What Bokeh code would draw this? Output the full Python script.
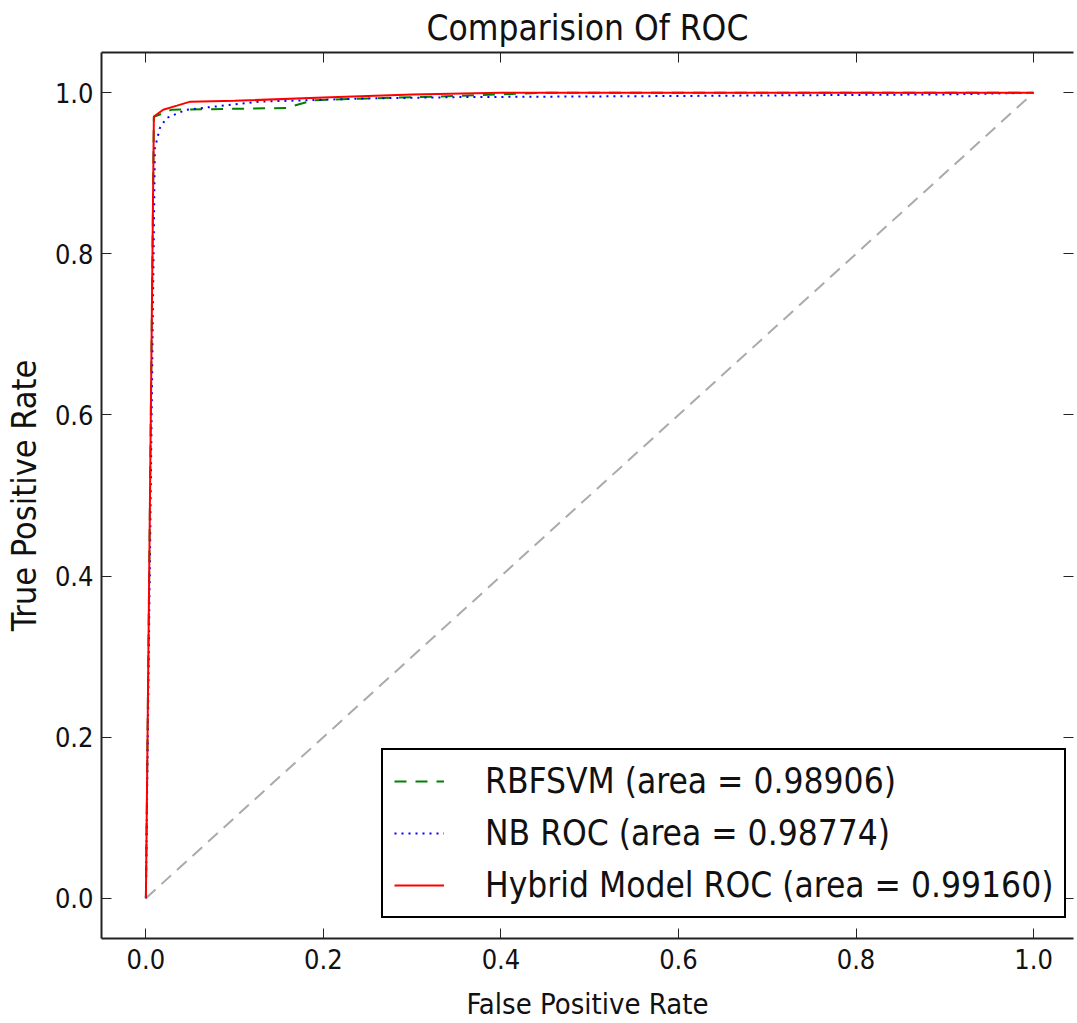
from bokeh.plotting import figure
from bokeh.models import Range1d, LinearAxis, FixedTicker, Legend, LegendItem, CustomLabelingPolicy
from bokeh.embed import file_html
from bokeh.resources import INLINE

# ---- data ----
fpr_svm = [0.0, 0.009, 0.029, 0.158, 0.188, 0.25, 0.35, 0.45, 1.0]
tpr_svm = [0.0, 0.970, 0.979, 0.981, 0.9906, 0.993, 0.996, 1.0, 1.0]

fpr_nb = [0.0, 0.0101, 0.0157, 0.023, 0.0457, 0.079, 0.128, 0.25, 0.352, 0.6, 0.9, 1.0]
tpr_nb = [0.0, 0.931, 0.956, 0.9686, 0.979, 0.983, 0.989, 0.993, 0.9946, 0.996, 0.998, 1.0]

fpr_hyb = [0.0, 0.009, 0.0195, 0.035, 0.05, 0.1, 0.2, 0.3, 0.4, 1.0]
tpr_hyb = [0.0, 0.9706, 0.979, 0.984, 0.989, 0.990, 0.994, 0.998, 1.0, 1.0]

diag = [0.0, 1.0]

labels = ["RBFSVM (area = 0.98906)", "NB ROC (area = 0.98774)", "Hybrid Model ROC (area = 0.99160)"]
tick_vals = [0.0, 0.2, 0.4, 0.6, 0.8, 1.0]
tick_labels = ["0.0", "0.2", "0.4", "0.6", "0.8", "1.0"]
title_text = "Comparision Of ROC"
x_label = "False Positive Rate"
y_label = "True Positive Rate"

FONT = "DejaVu Sans Condensed"
INK = "#111111"

p = figure(width=1077, height=1023, output_backend="svg", toolbar_location=None,
           x_range=Range1d(-0.05, 1.045), y_range=Range1d(-0.05, 1.05),
           min_border_left=101, min_border_right=0, min_border_top=52, min_border_bottom=85,
           x_axis_label=x_label, y_axis_label=y_label)
p.title.text = title_text
p.title.align = "center"
p.title.text_font = FONT
p.title.text_font_size = "35px"
p.title.text_font_style = "normal"
p.title.text_color = INK
p.title.standoff = 2
p.outline_line_color = None
p.xgrid.visible = False
p.ygrid.visible = False
p.background_fill_color = "white"
p.border_fill_color = "white"

ticker = FixedTicker(ticks=tick_vals)
overrides = {v: l for v, l in zip(tick_vals, tick_labels)}

for ax in p.xaxis + p.yaxis:
    ax.ticker = ticker
    ax.major_label_overrides = overrides
    ax.major_tick_in = 10
    ax.major_tick_out = 0
    ax.minor_tick_in = 0
    ax.minor_tick_out = 0
    ax.axis_line_width = 2
    ax.axis_line_color = "#222222"
    ax.major_tick_line_color = "#222222"
    ax.major_tick_line_width = 1
    ax.major_label_text_font = FONT
    ax.major_label_text_font_size = "27px"
    ax.major_label_text_color = INK
    ax.axis_label_text_font = FONT
    ax.axis_label_text_font_style = "normal"
    ax.axis_label_text_color = INK

p.xaxis.axis_label_text_font_size = "29px"
p.yaxis.axis_label_text_font_size = "34px"
p.xaxis.major_label_standoff = 10
p.xaxis.axis_label_standoff = 15
p.yaxis.major_label_standoff = 8
p.yaxis.axis_label_standoff = 8

no_labels = CustomLabelingPolicy(code="return new Set()")
top = LinearAxis(ticker=ticker, major_tick_in=10, major_tick_out=0, minor_tick_in=0, minor_tick_out=0,
                 major_label_text_font_size="1px", major_label_standoff=0, major_label_policy=no_labels,
                 axis_line_width=2, axis_line_color="#222222", major_tick_line_color="#222222")
p.add_layout(top, "above")
right = LinearAxis(ticker=ticker, major_tick_in=10, major_tick_out=0, minor_tick_in=0, minor_tick_out=0,
                   major_label_text_font_size="1px", major_label_standoff=0, major_label_policy=no_labels,
                   axis_line_color=None, major_tick_line_color="#222222")
p.add_layout(right, "right")

p.line(diag, diag, line_color="#aaaaaa", line_width=2, line_dash="13 8")
r_svm = p.line(fpr_svm, tpr_svm, line_color="#008000", line_width=2, line_dash="12 9")
r_nb = p.line(fpr_nb, tpr_nb, line_color="#0000ff", line_width=2, line_dash="2 5")
r_hyb = p.line(fpr_hyb, tpr_hyb, line_color="#ff0000", line_width=2)

legend = Legend(items=[LegendItem(label=labels[0], renderers=[r_svm]),
                       LegendItem(label=labels[1], renderers=[r_nb]),
                       LegendItem(label=labels[2], renderers=[r_hyb])],
                location=(280, 20), margin=0, padding=11, spacing=12,
                glyph_width=50, label_standoff=41, label_height=36,
                label_text_font=FONT, label_text_font_size="35px", label_text_color=INK,
                border_line_color="black", border_line_width=2, border_line_alpha=1.0,
                background_fill_alpha=1.0)
p.add_layout(legend, "center")

open("out.html", "w").write(file_html(p, INLINE))
